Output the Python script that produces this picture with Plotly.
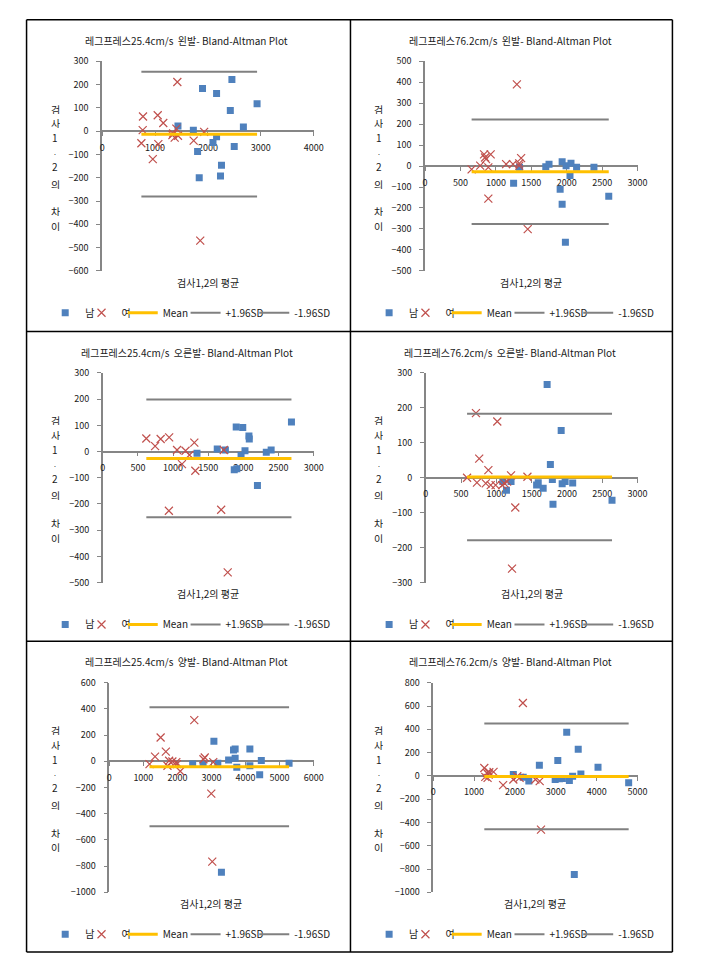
import plotly.graph_objects as go

W, H = 705, 959
FONT = "Noto Sans CJK KR"

# ---------------- data ----------------
titles = [
    "레그프레스25.4cm/s  왼발- Bland-Altman Plot",
    "레그프레스76.2cm/s  왼발- Bland-Altman Plot",
    "레그프레스25.4cm/s  오른발- Bland-Altman Plot",
    "레그프레스76.2cm/s  오른발- Bland-Altman Plot",
    "레그프레스25.4cm/s  양발- Bland-Altman Plot",
    "레그프레스76.2cm/s  양발- Bland-Altman Plot",
]
x_title = "검사1,2의 평균"
y_title_chars = ["검", "사", "1", ".", "2", "의", "차", "이"]
legend_names = ["남", "여", "Mean", "+1.96SD", "-1.96SD"]

x_ranges = [[0, 4000], [0, 3000], [0, 3000], [0, 3000], [0, 6000], [0, 5000]]
x_dticks = [1000, 500, 500, 500, 1000, 1000]
y_ranges = [[-600, 300], [-500, 500], [-500, 300], [-300, 300], [-1000, 600], [-1000, 800]]
y_dticks = [100, 100, 100, 100, 200, 200]

# chart 1: 25.4cm/s left
m1_x = [1434, 1725, 1898, 2164, 2454, 2424, 2930, 2671, 2096, 2164, 2498, 1805, 1836, 2257, 2238]
m1_y = [22, 4, 183, 162, 222, 89, 117, 18, -49, -24, -66, -87, -200, -146, -193]
f1_x = [773, 767, 742, 1051, 1156, 1063, 958, 1422, 1342, 1372, 1329, 1434, 1403, 1731, 1929, 1855]
f1_y = [63, 4, -52, 68, 35, -56, -120, 211, -10, -28, -17, -20, 11, -41, -3, -470]
# chart 2: 76.2cm/s left
m2_x = [1250, 1333, 1704, 1750, 1935, 1991, 2060, 2139, 2384, 2046, 1907, 1935, 1981, 2593]
m2_y = [-82, -6, -3, 9, 20, 2, 13, -6, -6, -45, -111, -182, -364, -144]
f2_x = [657, 778, 833, 847, 861, 893, 926, 893, 1144, 1241, 1329, 1356, 1296, 1449, 1329]
f2_y = [-16, 2, 56, 41, 33, -6, 56, -155, 9, 9, 13, 38, 390, -301, 2]
# chart 3: 25.4cm/s right
m3_x = [1340, 1628, 1744, 1898, 1991, 1870, 1907, 1967, 2023, 2079, 2084, 2200, 2326, 2395, 2684]
m3_y = [-6, 10, 6, 94, 92, -69, -66, -15, 3, 59, 48, -129, -3, 6, 113]
f3_x = [619, 744, 823, 944, 1056, 1177, 1126, 1233, 1302, 1316, 940, 1684, 1777, 1721]
f3_y = [50, 21, 48, 54, 6, 3, -48, -13, 34, -73, -226, -222, -461, 6]
# chart 4: 76.2cm/s right
m4_x = [1091, 1143, 1208, 1570, 1593, 1663, 1719, 1765, 1793, 1802, 1918, 1932, 1974, 2081, 2638]
m4_y = [-11, -36, -11, -21, -14, -30, 267, 38, -5, -76, 135, -17, -11, -15, -64]
f4_x = [585, 711, 725, 757, 887, 850, 920, 989, 1013, 1082, 1115, 1152, 1208, 1268, 1222, 1440]
f4_y = [0, 185, -14, 55, 22, -16, -21, -21, 161, -21, -16, -11, 7, -85, -260, 3]
# chart 5: 25.4cm/s both
m5_x = [2447, 2754, 3071, 3186, 3503, 3647, 3695, 3695, 3743, 4127, 4127, 4415, 4463, 5278, 3292]
m5_y = [-21, -21, 154, -14, 11, 86, 94, 24, -46, 94, -34, -102, 6, -14, -846]
f5_x = [1180, 1343, 1507, 1660, 1708, 1756, 1852, 1967, 1987, 2083, 2495, 2802, 2764, 3052, 2994, 3023]
f5_y = [-21, 36, 182, 74, -34, 4, -1, -6, -21, -76, 315, 29, 16, -6, -247, -766]
# chart 6: 76.2cm/s both
m6_x = [1960, 2202, 2339, 2597, 2984, 3048, 3090, 3161, 3266, 3331, 3411, 3548, 3613, 4032, 4782, 3452]
m6_y = [11, -11, -45, 91, -31, 133, -25, -23, 374, -40, -3, 229, 17, 74, -59, -847]
f6_x = [1250, 1274, 1315, 1330, 1355, 1371, 1476, 1710, 1960, 2056, 2113, 2194, 2500, 2605, 2637]
f6_y = [68, -8, 25, -17, 11, 31, 34, -79, -31, -3, -17, 626, -31, -45, -462]

mean_vals = [-13, -27, -26, 2, -42, -5]
upper_vals = [255, 222, 199, 183, 412, 450]
lower_vals = [-281, -276, -251, -179, -495, -459]

males = [(m1_x, m1_y), (m2_x, m2_y), (m3_x, m3_y), (m4_x, m4_y), (m5_x, m5_y), (m6_x, m6_y)]
females = [(f1_x, f1_y), (f2_x, f2_y), (f3_x, f3_y), (f4_x, f4_y), (f5_x, f5_y), (f6_x, f6_y)]

# ---------------- style / geometry (pixels) ----------------
cell_left = [24, 354, 24, 354, 24, 354]
cell_top = [13, 13, 329, 329, 643, 643]
plot_left_off = [77, 76, 77.7, 76.7, 84.3, 84.3]
plot_right_off = 292.5
plot_top_off = 42
plot_bottom_off = 254.5
title_off = (163, 21)
xtitle_dy = 266
ytitle_dx = 29
ytitle_dys = [90, 105, 119, 134, 148, 166, 194, 209]
ytitle_sizes = [10, 10, 10, 7, 10, 10, 10, 10]
legend_dy = 297
legend_text_off = [61, 98, 140, 204, 274]   # where each legend text starts

BLUE = "#4F81BD"
RED = "#C0504D"
GOLD = "#FFC000"
GRAY = "#808080"
AXIS = "#868686"
TXT = "#1a1a1a"


def fx(px):
    return px / W


def fy(py):
    return 1 - py / H


fig = go.Figure()
layout = dict(
    width=W, height=H, margin=dict(l=0, r=0, t=0, b=0),
    paper_bgcolor="white", plot_bgcolor="white",
    font=dict(family=FONT, size=10, color=TXT),
    showlegend=True,
)
annotations = []
shapes = []
leg_counter = 0

for i in range(6):
    sfx = "" if i == 0 else str(i + 1)
    xl = cell_left[i] + plot_left_off[i]
    xr = cell_left[i] + plot_right_off
    yt = cell_top[i] + plot_top_off
    yb = cell_top[i] + plot_bottom_off
    y0, y1 = y_ranges[i]
    ydom = [fy(yb), fy(yt)]
    zero_pos = ydom[0] + (0 - y0) / (y1 - y0) * (ydom[1] - ydom[0])

    layout["xaxis" + sfx] = dict(
        domain=[fx(xl), fx(xr)], range=x_ranges[i], dtick=x_dticks[i], tick0=0,
        anchor="free", position=zero_pos, showgrid=False, zeroline=False,
        showline=True, linecolor=AXIS, linewidth=1.5, ticks="outside", ticklen=4,
        tickcolor=AXIS, tickwidth=1, tickfont=dict(size=9, color=TXT),
        ticklabelstandoff=4, layer="below traces", fixedrange=True,
    )
    layout["yaxis" + sfx] = dict(
        domain=ydom, range=y_ranges[i], dtick=y_dticks[i], tick0=0,
        anchor="x" + sfx, showgrid=False, zeroline=False,
        showline=True, linecolor=AXIS, linewidth=1.5, ticks="outside", ticklen=4,
        tickcolor=AXIS, tickwidth=1, tickfont=dict(size=9, color=TXT),
        ticklabelstandoff=6, layer="below traces", fixedrange=True,
    )

    mx, my = males[i]
    fxs, fys = females[i]
    all_x = list(mx) + list(fxs)
    lx = [min(all_x), max(all_x)]

    traces = [
        go.Scatter(x=mx, y=my, mode="markers", name=legend_names[0],
                   marker=dict(symbol="square", size=7, color=BLUE)),
        go.Scatter(x=fxs, y=fys, mode="markers", name=legend_names[1],
                   marker=dict(symbol="x-thin", size=8, color=RED,
                               line=dict(width=1.2, color=RED))),
        go.Scatter(x=lx, y=[mean_vals[i]] * 2, mode="lines", name=legend_names[2],
                   line=dict(color=GOLD, width=3)),
        go.Scatter(x=lx, y=[upper_vals[i]] * 2, mode="lines", name=legend_names[3],
                   line=dict(color=GRAY, width=2)),
        go.Scatter(x=lx, y=[lower_vals[i]] * 2, mode="lines", name=legend_names[4],
                   line=dict(color=GRAY, width=2)),
    ]
    for k, tr in enumerate(traces):
        leg_counter += 1
        lkey = "legend" if leg_counter == 1 else "legend%d" % leg_counter
        tr.update(xaxis="x" + sfx, yaxis="y" + sfx, legend=lkey, hoverinfo="skip")
        fig.add_trace(tr)
        layout[lkey] = dict(
            x=fx(cell_left[i] + legend_text_off[k] - 42), y=fy(cell_top[i] + legend_dy),
            xanchor="left", yanchor="middle", orientation="h",
            bgcolor="rgba(0,0,0,0)", borderwidth=0, itemwidth=30,
            font=dict(size=10, color=TXT, family=FONT),
        )

    annotations.append(dict(
        text=titles[i], x=fx(cell_left[i] + title_off[0]), y=fy(cell_top[i] + title_off[1]),
        xref="paper", yref="paper", showarrow=False, xanchor="center", yanchor="middle",
        font=dict(size=10, color=TXT)))
    annotations.append(dict(
        text=x_title, x=fx((xl + xr) / 2), y=fy(cell_top[i] + xtitle_dy),
        xref="paper", yref="paper", showarrow=False, xanchor="center", yanchor="middle",
        font=dict(size=10, color=TXT)))
    for ch, dy, fs in zip(y_title_chars, ytitle_dys, ytitle_sizes):
        annotations.append(dict(
            text=ch, x=fx(cell_left[i] + ytitle_dx), y=fy(cell_top[i] + dy),
            xref="paper", yref="paper", showarrow=False, height=10, borderpad=0,
            xanchor="center", yanchor="middle", font=dict(size=fs, color=TXT)))

# table borders
col_lines = [24, 354, 682]
row_lines = [13, 329, 643, 958]
for cx in col_lines:
    shapes.append(dict(type="line", xref="paper", yref="paper", x0=fx(cx), x1=fx(cx),
                       y0=fy(row_lines[0]), y1=fy(row_lines[-1]),
                       line=dict(color="black", width=1.5)))
for ry in row_lines:
    shapes.append(dict(type="line", xref="paper", yref="paper", x0=fx(col_lines[0]),
                       x1=fx(col_lines[-1]), y0=fy(ry), y1=fy(ry),
                       line=dict(color="black", width=1.5)))

layout["annotations"] = annotations
layout["shapes"] = shapes
fig.update_layout(**layout)
fig.write_html(
    "out.html",
    config={"displayModeBar": False},
    post_script="document.body.style.margin='0';document.body.style.overflow='hidden';",
)
